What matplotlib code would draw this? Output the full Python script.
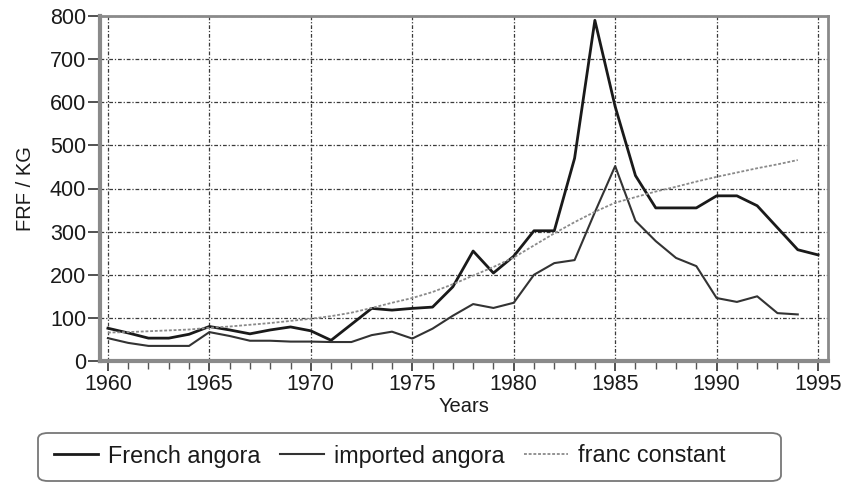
import matplotlib
matplotlib.use("Agg")
import matplotlib.pyplot as plt
from matplotlib.patches import FancyBboxPatch
from matplotlib.ticker import MultipleLocator

years = list(range(1960, 1996))
french_angora = [76, 65, 53, 53, 62, 80, 72, 63, 72, 79, 70, 48, 85, 122, 118, 122, 125, 172,
                 255, 204, 243, 302, 302, 470, 790, 590, 430, 355, 355, 355, 383, 383, 360,
                 309, 258, 246]
imported_years = list(range(1960, 1995))
imported_angora = [53, 42, 35, 35, 35, 67, 58, 47, 47, 45, 45, 44, 44, 60, 68, 52, 75, 105,
                   132, 123, 135, 200, 227, 234, 345, 452, 325, 278, 239, 220, 146, 137, 150,
                   111, 108]
franc_years = list(range(1960, 1995))
franc_constant = [66, 67, 69, 71, 73, 77, 80, 84, 88, 93, 98, 104, 112, 123, 135, 146, 160,
                  178, 198, 218, 240, 268, 296, 322, 346, 367, 380, 393, 404, 416, 427, 437,
                  447, 456, 466]

plt.rcParams['font.family'] = ['Liberation Sans', 'DejaVu Sans']

fig = plt.figure(figsize=(8.44, 4.83), dpi=100)
ax = fig.add_axes([100/844, 1-361/483, 728/844, 345/483])

grid_kw = dict(color='#3a3a3a', lw=0.9, ls=(0, (3, 1.5, 1, 1.5)))
ax.grid(True, which='major', **grid_kw)
ax.set_axisbelow(True)

l1, = ax.plot(years, french_angora, color='#1a1a1a', lw=2.0, label='French angora')
l2, = ax.plot(imported_years, imported_angora, color='#333333', lw=1.5, label='imported angora')
l3, = ax.plot(franc_years, franc_constant, color='#8a8a8a', lw=1.3, ls=(0, (1.6, 1.0)),
              label='franc constant')

ax.set_xlim(1959.61, 1995.49)
ax.set_ylim(0, 800)
ax.xaxis.set_major_locator(MultipleLocator(5))
ax.xaxis.set_minor_locator(MultipleLocator(1))
ax.yaxis.set_major_locator(MultipleLocator(100))

for s in ['left', 'bottom']:
    ax.spines[s].set_linewidth(3)
    ax.spines[s].set_color('#8a8a8a')
for s in ['top', 'right']:
    ax.spines[s].set_linewidth(2)
    ax.spines[s].set_color('#8a8a8a')

ax.tick_params(axis='y', which='major', direction='out', length=9, width=1.2,
               color='#333333', labelsize=15.5, pad=1, labelcolor='#1a1a1a')
ax.tick_params(axis='x', which='major', direction='out', length=7, width=1.2,
               color='#333333', labelsize=15.5, pad=2, labelcolor='#1a1a1a')
ax.tick_params(axis='x', which='minor', direction='out', length=6, width=1.0,
               color='#555555')

ax.set_xlabel('Years', fontsize=14.5, labelpad=2, color='#1a1a1a')
ax.set_ylabel('FRF / KG', fontsize=14.5, labelpad=11, color='#1a1a1a')

# legend box
box = FancyBboxPatch((38/844, 2/483), (781-38)/844, 48/483,
                     boxstyle='round,pad=0,rounding_size=0.012',
                     transform=fig.transFigure, facecolor='white',
                     edgecolor='#777777', lw=1.3, zorder=1)
fig.patches.append(box)

leg = fig.legend(handles=[l1, l2, l3], loc='center left',
                 bbox_to_anchor=(45/844, 1-456/483), ncol=3, frameon=False,
                 fontsize=16.8, handlelength=1.85, handletextpad=0.45,
                 columnspacing=0.85, borderaxespad=0, labelcolor='#1a1a1a')

fig.savefig('out.png', dpi=100)
